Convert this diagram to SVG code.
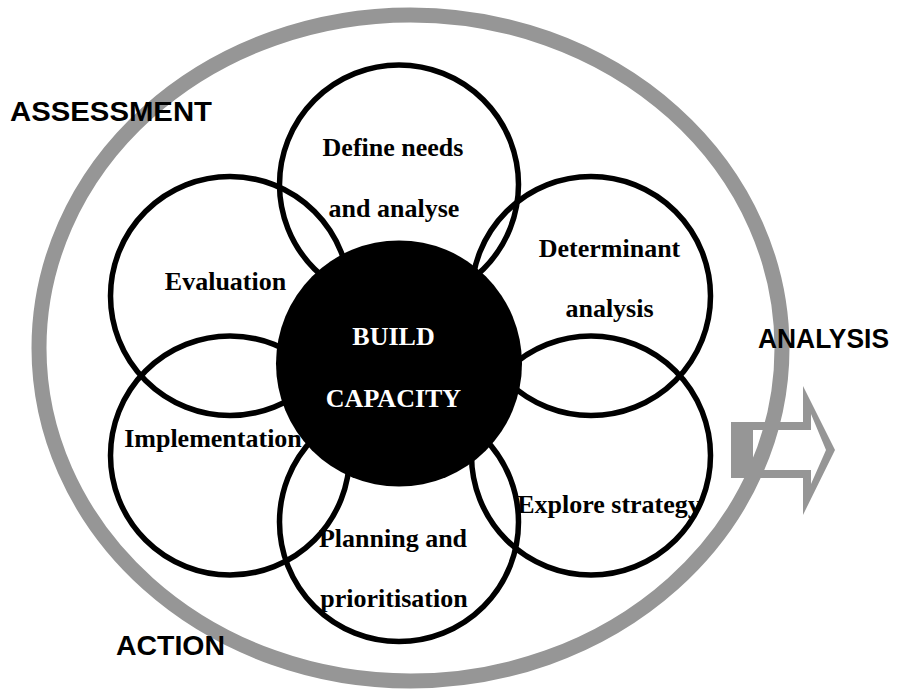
<svg xmlns="http://www.w3.org/2000/svg" width="906" height="693" viewBox="0 0 906 693">
  <style>
    .ring { fill: none; stroke: #969696; stroke-width: 15; }
    .arrow { fill: #969696; fill-rule: evenodd; }
    .petal { fill: none; stroke: #000; stroke-width: 5.5; }
    .hub { fill: #000; }
    .ptxt { font-family: "Liberation Serif", "Times New Roman", serif; font-weight: bold; font-size: 26px; fill: #000; text-anchor: middle; }
    .htxt { font-family: "Liberation Serif", "Times New Roman", serif; font-weight: bold; font-size: 26px; fill: #fff; text-anchor: middle; }
    .stage { font-family: "Liberation Sans", Arial, sans-serif; font-weight: bold; font-size: 28px; fill: #000; }
  </style>

  <rect width="906" height="693" fill="#fff"/>

  <!-- outer cycle ring and outgoing arrow -->
  <g id="connectors">
    <ellipse class="ring" cx="410.5" cy="348" rx="371.5" ry="333"/>
    <path class="arrow" d="M731,422 H803 V386 L835,450 L803,515 V478 H731 Z M753,430 V470 H811 V484 L826,450 L811,414 V430 Z"/>
  </g>

  <!-- stage labels -->
  <g id="label-assessment"><text class="stage" x="10" y="121" textLength="202" lengthAdjust="spacingAndGlyphs">ASSESSMENT</text></g>
  <g id="label-analysis"><text class="stage" x="758" y="348" textLength="131" lengthAdjust="spacingAndGlyphs">ANALYSIS</text></g>
  <g id="label-action"><text class="stage" x="116" y="655" textLength="109" lengthAdjust="spacingAndGlyphs">ACTION</text></g>

  <!-- petals -->
  <g id="define-needs">
    <text class="ptxt" x="393" y="156">Define needs</text>
    <text class="ptxt" x="394" y="217">and analyse</text>
    <circle class="petal" cx="399" cy="184.5" r="119.5"/>
  </g>
  <g id="determinant-analysis">
    <text class="ptxt" x="609.5" y="257">Determinant</text>
    <text class="ptxt" x="609.5" y="317">analysis</text>
    <circle class="petal" cx="591" cy="296" r="119.5"/>
  </g>
  <g id="explore-strategy">
    <text class="ptxt" x="609" y="513">Explore strategy</text>
    <circle class="petal" cx="591" cy="455.5" r="119.5"/>
  </g>
  <g id="planning">
    <text class="ptxt" x="393" y="547">Planning and</text>
    <text class="ptxt" x="394" y="607">prioritisation</text>
    <circle class="petal" cx="399" cy="522" r="119.5"/>
  </g>
  <g id="implementation">
    <text class="ptxt" x="213" y="447">Implementation</text>
    <circle class="petal" cx="230" cy="455.5" r="119.5"/>
  </g>
  <g id="evaluation">
    <text class="ptxt" x="225.5" y="290">Evaluation</text>
    <circle class="petal" cx="230" cy="296" r="119.5"/>
  </g>

  <!-- centre -->
  <g id="build-capacity">
    <circle class="hub" cx="399" cy="363.5" r="123"/>
    <text class="htxt" x="393.5" y="345">BUILD</text>
    <text class="htxt" x="393.5" y="407">CAPACITY</text>
  </g>
</svg>
